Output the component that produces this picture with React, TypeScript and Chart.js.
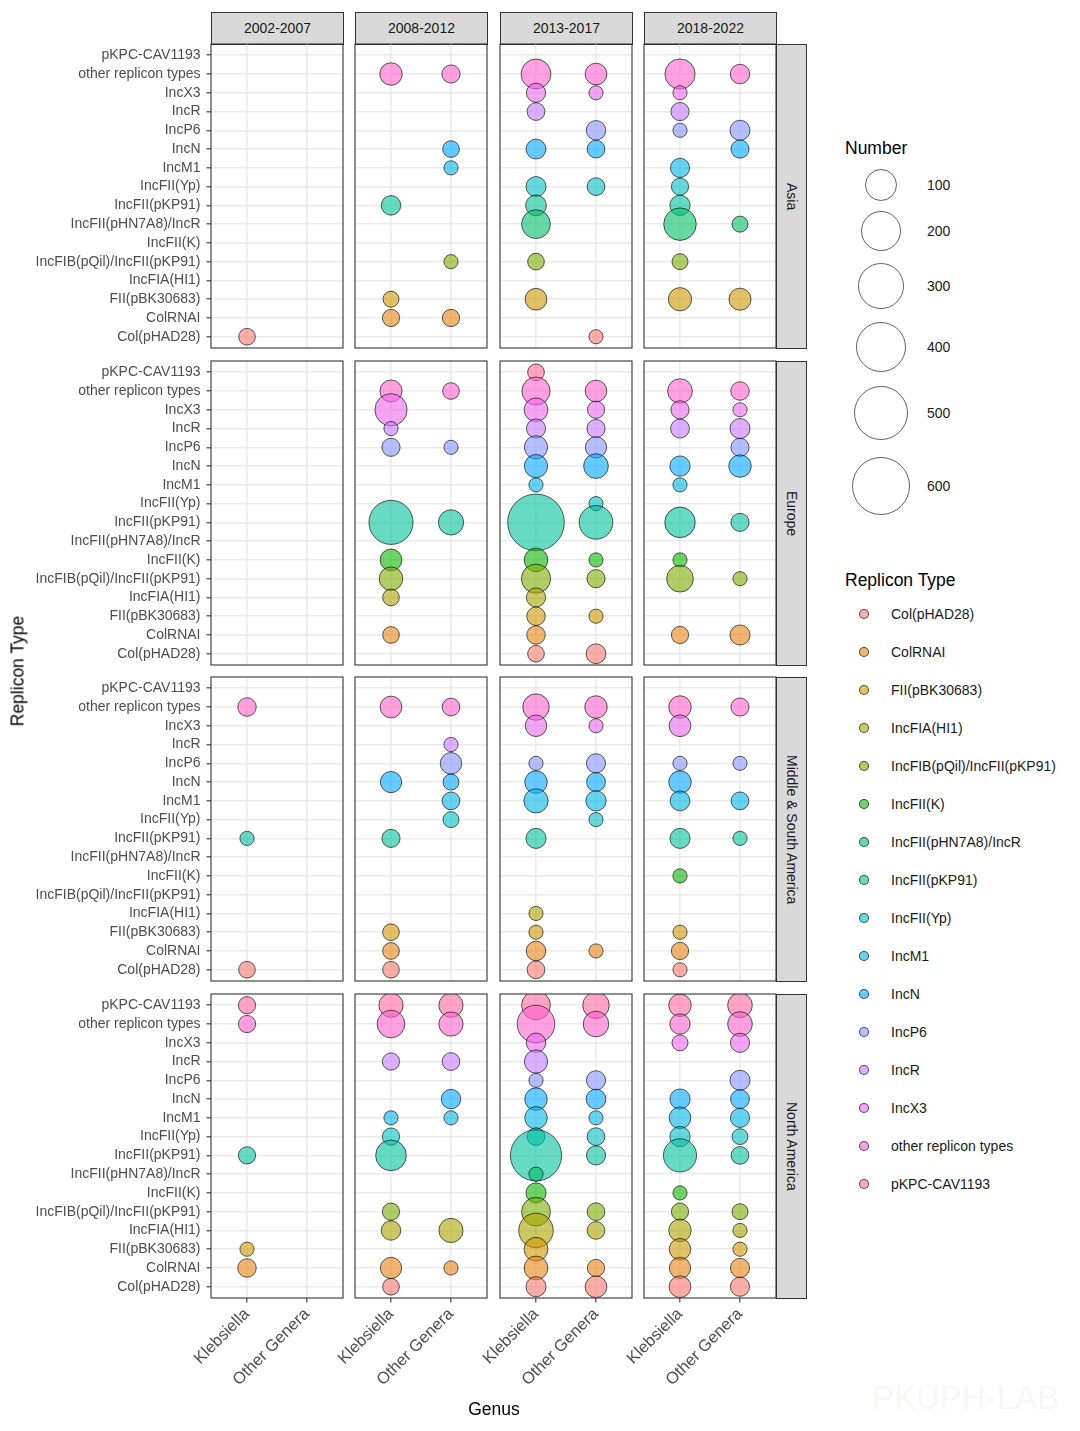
import React, { useEffect, useRef } from "react";
import { Chart, registerables } from "chart.js";

Chart.register(...registerables);

// ---------------- data ----------------
const PERIODS = ["2002-2007", "2008-2012", "2013-2017", "2018-2022"];
const REGIONS = ["Asia", "Europe", "Middle & South America", "North America"];
const GENERA = ["Klebsiella", "Other Genera"];
const REPLICON_TYPES = [
  "Col(pHAD28)",
  "ColRNAI",
  "FII(pBK30683)",
  "IncFIA(HI1)",
  "IncFIB(pQil)/IncFII(pKP91)",
  "IncFII(K)",
  "IncFII(pHN7A8)/IncR",
  "IncFII(pKP91)",
  "IncFII(Yp)",
  "IncM1",
  "IncN",
  "IncP6",
  "IncR",
  "IncX3",
  "other replicon types",
  "pKPC-CAV1193",
];
const SIZE_BREAKS = [100, 200, 300, 400, 500, 600];

const K = "Klebsiella";
const O = "Other Genera";

// [period, genus, replicon type, number]
type Row = [string, string, string, number];

const ASIA: Row[] = [
  ["2002-2007", K, "Col(pHAD28)", 3],

  ["2008-2012", K, "other replicon types", 23],
  ["2008-2012", O, "other replicon types", 6],
  ["2008-2012", O, "IncN", 3],
  ["2008-2012", O, "IncM1", 1],
  ["2008-2012", K, "IncFII(pKP91)", 10],
  ["2008-2012", O, "IncFIB(pQil)/IncFII(pKP91)", 1],
  ["2008-2012", K, "FII(pBK30683)", 2],
  ["2008-2012", K, "ColRNAI", 4],
  ["2008-2012", O, "ColRNAI", 4],

  ["2013-2017", K, "other replicon types", 79],
  ["2013-2017", K, "IncX3", 9],
  ["2013-2017", K, "IncR", 5],
  ["2013-2017", K, "IncN", 11],
  ["2013-2017", K, "IncFII(Yp)", 12],
  ["2013-2017", K, "IncFII(pKP91)", 15],
  ["2013-2017", K, "IncFII(pHN7A8)/IncR", 69],
  ["2013-2017", K, "IncFIB(pQil)/IncFII(pKP91)", 3],
  ["2013-2017", K, "FII(pBK30683)", 19],
  ["2013-2017", O, "other replicon types", 19],
  ["2013-2017", O, "IncX3", 1],
  ["2013-2017", O, "IncP6", 10],
  ["2013-2017", O, "IncN", 5],
  ["2013-2017", O, "IncFII(Yp)", 5],
  ["2013-2017", O, "Col(pHAD28)", 1],

  ["2018-2022", K, "other replicon types", 82],
  ["2018-2022", K, "IncX3", 1],
  ["2018-2022", K, "IncR", 6],
  ["2018-2022", K, "IncP6", 1],
  ["2018-2022", K, "IncM1", 9],
  ["2018-2022", K, "IncFII(Yp)", 4],
  ["2018-2022", K, "IncFII(pKP91)", 13],
  ["2018-2022", K, "IncFII(pHN7A8)/IncR", 108],
  ["2018-2022", K, "IncFIB(pQil)/IncFII(pKP91)", 2],
  ["2018-2022", K, "FII(pBK30683)", 27],
  ["2018-2022", O, "other replicon types", 10],
  ["2018-2022", O, "IncP6", 12],
  ["2018-2022", O, "IncN", 6],
  ["2018-2022", O, "IncFII(pHN7A8)/IncR", 2],
  ["2018-2022", O, "FII(pBK30683)", 21],
];

const EUROPE: Row[] = [
  ["2008-2012", K, "other replicon types", 21],
  ["2008-2012", K, "IncX3", 104],
  ["2008-2012", K, "IncR", 1],
  ["2008-2012", K, "IncP6", 6],
  ["2008-2012", K, "IncFII(pKP91)", 286],
  ["2008-2012", K, "IncFII(K)", 19],
  ["2008-2012", K, "IncFIB(pQil)/IncFII(pKP91)", 29],
  ["2008-2012", K, "IncFIA(HI1)", 3],
  ["2008-2012", K, "ColRNAI", 3],
  ["2008-2012", O, "other replicon types", 3],
  ["2008-2012", O, "IncP6", 1],
  ["2008-2012", O, "IncFII(pKP91)", 40],

  ["2013-2017", K, "pKPC-CAV1193", 3],
  ["2013-2017", K, "other replicon types", 63],
  ["2013-2017", K, "IncX3", 30],
  ["2013-2017", K, "IncR", 9],
  ["2013-2017", K, "IncP6", 27],
  ["2013-2017", K, "IncN", 27],
  ["2013-2017", K, "IncM1", 1],
  ["2013-2017", K, "IncFII(pKP91)", 575],
  ["2013-2017", K, "IncFII(K)", 29],
  ["2013-2017", K, "IncFIB(pQil)/IncFII(pKP91)", 73],
  ["2013-2017", K, "IncFIA(HI1)", 9],
  ["2013-2017", K, "FII(pBK30683)", 7],
  ["2013-2017", K, "ColRNAI", 7],
  ["2013-2017", K, "Col(pHAD28)", 3],
  ["2013-2017", O, "other replicon types", 19],
  ["2013-2017", O, "IncX3", 4],
  ["2013-2017", O, "IncR", 6],
  ["2013-2017", O, "IncP6", 17],
  ["2013-2017", O, "IncN", 36],
  ["2013-2017", O, "IncFII(Yp)", 1],
  ["2013-2017", O, "IncFII(pKP91)", 122],
  ["2013-2017", O, "IncFII(K)", 1],
  ["2013-2017", O, "IncFIB(pQil)/IncFII(pKP91)", 6],
  ["2013-2017", O, "FII(pBK30683)", 1],
  ["2013-2017", O, "Col(pHAD28)", 11],

  ["2018-2022", K, "other replicon types", 36],
  ["2018-2022", K, "IncX3", 6],
  ["2018-2022", K, "IncR", 8],
  ["2018-2022", K, "IncN", 13],
  ["2018-2022", K, "IncM1", 1],
  ["2018-2022", K, "IncFII(pKP91)", 86],
  ["2018-2022", K, "IncFII(K)", 1],
  ["2018-2022", K, "IncFIB(pQil)/IncFII(pKP91)", 51],
  ["2018-2022", K, "ColRNAI", 4],
  ["2018-2022", O, "other replicon types", 7],
  ["2018-2022", O, "IncX3", 1],
  ["2018-2022", O, "IncR", 12],
  ["2018-2022", O, "IncP6", 6],
  ["2018-2022", O, "IncN", 23],
  ["2018-2022", O, "IncFII(pKP91)", 6],
  ["2018-2022", O, "IncFIB(pQil)/IncFII(pKP91)", 1],
  ["2018-2022", O, "ColRNAI", 12],
];

const MIDDLE_SOUTH_AMERICA: Row[] = [
  ["2002-2007", K, "other replicon types", 7],
  ["2002-2007", K, "IncFII(pKP91)", 1],
  ["2002-2007", K, "Col(pHAD28)", 3],

  ["2008-2012", K, "other replicon types", 19],
  ["2008-2012", K, "IncN", 17],
  ["2008-2012", K, "IncFII(pKP91)", 6],
  ["2008-2012", K, "FII(pBK30683)", 3],
  ["2008-2012", K, "ColRNAI", 3],
  ["2008-2012", K, "Col(pHAD28)", 3],
  ["2008-2012", O, "other replicon types", 5],
  ["2008-2012", O, "IncR", 1],
  ["2008-2012", O, "IncP6", 18],
  ["2008-2012", O, "IncN", 2],
  ["2008-2012", O, "IncM1", 5],
  ["2008-2012", O, "IncFII(Yp)", 2],

  ["2013-2017", K, "other replicon types", 49],
  ["2013-2017", K, "IncX3", 18],
  ["2013-2017", K, "IncP6", 1],
  ["2013-2017", K, "IncN", 23],
  ["2013-2017", K, "IncM1", 33],
  ["2013-2017", K, "IncFII(pKP91)", 12],
  ["2013-2017", K, "IncFIA(HI1)", 1],
  ["2013-2017", K, "FII(pBK30683)", 1],
  ["2013-2017", K, "ColRNAI", 10],
  ["2013-2017", K, "Col(pHAD28)", 5],
  ["2013-2017", O, "other replicon types", 23],
  ["2013-2017", O, "IncX3", 1],
  ["2013-2017", O, "IncP6", 9],
  ["2013-2017", O, "IncN", 8],
  ["2013-2017", O, "IncM1", 13],
  ["2013-2017", O, "IncFII(Yp)", 1],
  ["2013-2017", O, "ColRNAI", 1],

  ["2018-2022", K, "other replicon types", 23],
  ["2018-2022", K, "IncX3", 19],
  ["2018-2022", K, "IncP6", 1],
  ["2018-2022", K, "IncN", 23],
  ["2018-2022", K, "IncM1", 11],
  ["2018-2022", K, "IncFII(pKP91)", 12],
  ["2018-2022", K, "IncFII(K)", 1],
  ["2018-2022", K, "FII(pBK30683)", 1],
  ["2018-2022", K, "ColRNAI", 4],
  ["2018-2022", K, "Col(pHAD28)", 1],
  ["2018-2022", O, "other replicon types", 6],
  ["2018-2022", O, "IncP6", 1],
  ["2018-2022", O, "IncM1", 5],
  ["2018-2022", O, "IncFII(pKP91)", 1],
];

const NORTH_AMERICA: Row[] = [
  ["2002-2007", K, "pKPC-CAV1193", 4],
  ["2002-2007", K, "other replicon types", 4],
  ["2002-2007", K, "IncFII(pKP91)", 4],
  ["2002-2007", K, "FII(pBK30683)", 1],
  ["2002-2007", K, "ColRNAI", 7],

  ["2008-2012", K, "pKPC-CAV1193", 33],
  ["2008-2012", K, "other replicon types", 59],
  ["2008-2012", K, "IncR", 4],
  ["2008-2012", K, "IncM1", 1],
  ["2008-2012", K, "IncFII(Yp)", 4],
  ["2008-2012", K, "IncFII(pKP91)", 88],
  ["2008-2012", K, "IncFIB(pQil)/IncFII(pKP91)", 4],
  ["2008-2012", K, "IncFIA(HI1)", 10],
  ["2008-2012", K, "ColRNAI", 17],
  ["2008-2012", K, "Col(pHAD28)", 3],
  ["2008-2012", O, "pKPC-CAV1193", 33],
  ["2008-2012", O, "other replicon types", 33],
  ["2008-2012", O, "IncR", 5],
  ["2008-2012", O, "IncN", 10],
  ["2008-2012", O, "IncM1", 1],
  ["2008-2012", O, "IncFIA(HI1)", 33],
  ["2008-2012", O, "ColRNAI", 1],

  ["2013-2017", K, "pKPC-CAV1193", 69],
  ["2013-2017", K, "other replicon types", 175],
  ["2013-2017", K, "IncX3", 10],
  ["2013-2017", K, "IncR", 27],
  ["2013-2017", K, "IncP6", 1],
  ["2013-2017", K, "IncN", 23],
  ["2013-2017", K, "IncM1", 23],
  ["2013-2017", K, "IncFII(Yp)", 5],
  ["2013-2017", K, "IncFII(pKP91)", 436],
  ["2013-2017", K, "IncFII(pHN7A8)/IncR", 1],
  ["2013-2017", K, "IncFII(K)", 12],
  ["2013-2017", K, "IncFIB(pQil)/IncFII(pKP91)", 69],
  ["2013-2017", K, "IncFIA(HI1)", 132],
  ["2013-2017", K, "FII(pBK30683)", 30],
  ["2013-2017", K, "ColRNAI", 30],
  ["2013-2017", K, "Col(pHAD28)", 12],
  ["2013-2017", O, "pKPC-CAV1193", 49],
  ["2013-2017", O, "other replicon types", 42],
  ["2013-2017", O, "IncP6", 9],
  ["2013-2017", O, "IncN", 11],
  ["2013-2017", O, "IncM1", 1],
  ["2013-2017", O, "IncFII(Yp)", 5],
  ["2013-2017", O, "IncFII(pKP91)", 9],
  ["2013-2017", O, "IncFIB(pQil)/IncFII(pKP91)", 5],
  ["2013-2017", O, "IncFIA(HI1)", 5],
  ["2013-2017", O, "ColRNAI", 4],
  ["2013-2017", O, "Col(pHAD28)", 19],

  ["2018-2022", K, "pKPC-CAV1193", 23],
  ["2018-2022", K, "other replicon types", 13],
  ["2018-2022", K, "IncX3", 2],
  ["2018-2022", K, "IncN", 13],
  ["2018-2022", K, "IncM1", 19],
  ["2018-2022", K, "IncFII(Yp)", 13],
  ["2018-2022", K, "IncFII(pKP91)", 116],
  ["2018-2022", K, "IncFII(K)", 1],
  ["2018-2022", K, "IncFIB(pQil)/IncFII(pKP91)", 4],
  ["2018-2022", K, "IncFIA(HI1)", 23],
  ["2018-2022", K, "FII(pBK30683)", 18],
  ["2018-2022", K, "ColRNAI", 17],
  ["2018-2022", K, "Col(pHAD28)", 19],
  ["2018-2022", O, "pKPC-CAV1193", 36],
  ["2018-2022", O, "other replicon types", 36],
  ["2018-2022", O, "IncX3", 9],
  ["2018-2022", O, "IncP6", 12],
  ["2018-2022", O, "IncN", 8],
  ["2018-2022", O, "IncM1", 9],
  ["2018-2022", O, "IncFII(Yp)", 2],
  ["2018-2022", O, "IncFII(pKP91)", 5],
  ["2018-2022", O, "IncFIB(pQil)/IncFII(pKP91)", 2],
  ["2018-2022", O, "IncFIA(HI1)", 1],
  ["2018-2022", O, "FII(pBK30683)", 1],
  ["2018-2022", O, "ColRNAI", 9],
  ["2018-2022", O, "Col(pHAD28)", 9],
];

const REGION_DATA: Row[][] = [ASIA, EUROPE, MIDDLE_SOUTH_AMERICA, NORTH_AMERICA];

// ---------------- scales / styling ----------------
const FONT = "'Liberation Sans', Arial, Helvetica, sans-serif";
const SMALL = 14;
const TITLE = 17.5;
const N_MIN = 1;
const N_MAX = 600;
const R_MIN = 7.1;
const R_SPAN = 21.7;
function sizeScale(n: number): number {
  return R_MIN + R_SPAN * Math.sqrt(Math.max(n - N_MIN, 0) / (N_MAX - N_MIN));
}

// ggplot2-like hue palette (polar Luv -> sRGB)
function hcl(h: number, c: number, l: number): [number, number, number] {
  const Xn = 95.047, Yn = 100.0, Zn = 108.883;
  const hr = (h * Math.PI) / 180;
  const U = c * Math.cos(hr);
  const V = c * Math.sin(hr);
  const Y = l > 7.999592 ? Yn * Math.pow((l + 16) / 116, 3) : (Yn * l) / 903.3;
  const den = Xn + 15 * Yn + 3 * Zn;
  const un = (4 * Xn) / den;
  const vn = (9 * Yn) / den;
  const u = U / (13 * l) + un;
  const v = V / (13 * l) + vn;
  const X = (9 * Y * u) / (4 * v);
  const Z = -X / 3 - 5 * Y + (3 * Y) / v;
  const x = X / 100, y = Y / 100, z = Z / 100;
  const lin = [
    3.240479 * x - 1.53715 * y - 0.498535 * z,
    -0.969256 * x + 1.875992 * y + 0.041556 * z,
    0.055648 * x - 0.204043 * y + 1.057311 * z,
  ];
  const g = (t: number) => (t > 0.0031308 ? 1.055 * Math.pow(t, 1 / 2.4) - 0.055 : 12.92 * t);
  return lin.map((t) => Math.round(255 * Math.min(1, Math.max(0, g(t))))) as [number, number, number];
}
const TYPE_RGB = REPLICON_TYPES.map((_, i) => hcl(15 + (360 / REPLICON_TYPES.length) * i, 100, 65));
const fillOf = (i: number) => `rgba(${TYPE_RGB[i][0]},${TYPE_RGB[i][1]},${TYPE_RGB[i][2]},0.6)`;
const BORDER = "rgba(0,0,0,0.62)";

// layout (px)
const PANEL_LEFT = [211, 355, 500, 644];
const PANEL_TOP = [44, 361, 677, 994];
const PW = 132;
const PH = 304;

const panelBorder = {
  id: "panelBorder",
  afterDatasetsDraw(chart: any) {
    const { ctx, chartArea: a } = chart;
    ctx.save();
    ctx.strokeStyle = "#333333";
    ctx.lineWidth = 1.1;
    ctx.strokeRect(a.left, a.top, a.right - a.left, a.bottom - a.top);
    ctx.restore();
  },
};

function Panel({ col, row }: { col: number; row: number }) {
  const ref = useRef<HTMLCanvasElement | null>(null);
  const L = col === 0 ? PANEL_LEFT[0] : 60;
  const T = 20;
  const R = 6;
  const B = row === 3 ? 120 : 20;
  const cw = L + PW + R;
  const ch = T + PH + B;
  const left = PANEL_LEFT[col] - L;
  const top = PANEL_TOP[row] - T;

  useEffect(() => {
    if (!ref.current) return;
    const rows = REGION_DATA[row].filter((d) => d[0] === PERIODS[col]);
    const datasets = REPLICON_TYPES.map((t, i) => ({
      label: t,
      data: rows
        .filter((d) => d[2] === t)
        .map((d) => ({ x: GENERA.indexOf(d[1]) + 1, y: i + 1, r: sizeScale(d[3]) })),
      backgroundColor: fillOf(i),
      borderColor: BORDER,
      borderWidth: 1,
      clip: 0,
    }));
    const chart = new Chart(ref.current, {
      type: "bubble",
      data: { datasets },
      options: {
        responsive: false,
        animation: false,
        events: [],
        layout: {
          autoPadding: false,
          padding: {
            left: col === 0 ? 0 : L,
            top: T,
            right: R,
            bottom: row === 3 ? 0 : B,
          },
        },
        plugins: { legend: { display: false }, tooltip: { enabled: false } },
        scales: {
          x: {
            type: "linear",
            min: 0.4,
            max: 2.6,
            afterBuildTicks: (s: any) => {
              s.ticks = GENERA.map((_, i) => ({ value: i + 1 }));
            },
            afterFit: (s: any) => {
              s.height = row === 3 ? B : 0;
            },
            border: { display: false },
            grid: {
              color: "#EBEBEB",
              lineWidth: 1.6,
              drawTicks: row === 3,
              tickLength: 4.5,
              tickColor: "#333333",
              tickWidth: 1.1,
            },
            ticks: {
              display: row === 3,
              autoSkip: false,
              minRotation: 45,
              maxRotation: 45,
              padding: 2,
              color: "#4D4D4D",
              font: { family: FONT, size: 16.5 },
              callback: (v: any) => GENERA[Math.round(v) - 1] ?? "",
            },
          },
          y: {
            type: "linear",
            min: 0.4,
            max: 16.6,
            afterBuildTicks: (s: any) => {
              s.ticks = REPLICON_TYPES.map((_, i) => ({ value: i + 1 }));
            },
            afterFit: (s: any) => {
              s.width = col === 0 ? L : 0;
            },
            border: { display: false },
            grid: {
              color: "#EBEBEB",
              lineWidth: 1.6,
              drawTicks: col === 0,
              tickLength: 4.5,
              tickColor: "#333333",
              tickWidth: 1.1,
            },
            ticks: {
              display: col === 0,
              autoSkip: false,
              padding: 6,
              color: "#4D4D4D",
              font: { family: FONT, size: SMALL },
              callback: (v: any) => REPLICON_TYPES[Math.round(v) - 1] ?? "",
            },
          },
        },
      } as any,
      plugins: [panelBorder],
    });
    return () => chart.destroy();
  }, [col, row]);

  return (
    <canvas
      ref={ref}
      width={cw}
      height={ch}
      style={{ position: "absolute", left, top, width: cw, height: ch }}
    />
  );
}

const textBase: React.CSSProperties = {
  position: "absolute",
  fontFamily: FONT,
  whiteSpace: "nowrap",
};

export default function App() {
  const stripStyle: React.CSSProperties = {
    position: "absolute",
    background: "#D9D9D9",
    border: "1px solid #333333",
    boxSizing: "border-box",
    display: "flex",
    alignItems: "center",
    justifyContent: "center",
    fontFamily: FONT,
    fontSize: SMALL,
    color: "#1A1A1A",
  };
  const sizeCenters = [185, 231, 286, 347, 413, 486];
  return (
    <div
      style={{
        position: "absolute",
        left: 0,
        top: 0,
        width: 1080,
        height: 1431,
        background: "#FFFFFF",
        overflow: "hidden",
      }}
    >
      {/* top strips */}
      {PERIODS.map((p, c) => (
        <div key={p} style={{ ...stripStyle, left: PANEL_LEFT[c], top: 12, width: PW + 1, height: 32.5 }}>
          {p}
        </div>
      ))}
      {/* right strips */}
      {REGIONS.map((r, i) => (
        <div
          key={r}
          style={{ ...stripStyle, left: PANEL_LEFT[3] + PW, top: PANEL_TOP[i], width: 31, height: PH + 1 }}
        >
          <span style={{ writingMode: "vertical-rl" }}>{r}</span>
        </div>
      ))}

      {/* panels */}
      {REGIONS.map((_, r) =>
        PERIODS.map((__, c) => <Panel key={`${r}-${c}`} col={c} row={r} />)
      )}

      {/* axis titles */}
      <div
        style={{
          ...textBase,
          left: 18,
          top: 671,
          fontSize: TITLE,
          color: "#000",
          transform: "translate(-50%, -50%) rotate(-90deg)",
        }}
      >
        Replicon Type
      </div>
      <div
        style={{
          ...textBase,
          left: 494,
          top: 1409,
          fontSize: TITLE,
          color: "#000",
          transform: "translate(-50%, -50%)",
        }}
      >
        Genus
      </div>

      {/* size legend */}
      <div style={{ ...textBase, left: 845, top: 138, lineHeight: "20px", fontSize: TITLE, color: "#000" }}>
        Number
      </div>
      {SIZE_BREAKS.map((b, i) => {
        const r = sizeScale(b) + 0.5;
        return (
          <React.Fragment key={b}>
            <div
              style={{
                position: "absolute",
                left: 881 - r,
                top: sizeCenters[i] - r,
                width: 2 * r,
                height: 2 * r,
                borderRadius: "50%",
                border: "1.2px solid rgba(0,0,0,0.62)",
                boxSizing: "border-box",
              }}
            />
            <div
              style={{
                ...textBase,
                left: 927,
                top: sizeCenters[i] - 10,
                lineHeight: "20px",
                fontSize: SMALL,
                color: "#1A1A1A",
              }}
            >
              {b}
            </div>
          </React.Fragment>
        );
      })}

      {/* colour legend */}
      <div style={{ ...textBase, left: 845, top: 570, lineHeight: "20px", fontSize: TITLE, color: "#000" }}>
        Replicon Type
      </div>
      {REPLICON_TYPES.map((t, i) => {
        const cy = 614 + 38 * i;
        return (
          <React.Fragment key={t}>
            <div
              style={{
                position: "absolute",
                left: 863.5 - 5,
                top: cy - 5,
                width: 10,
                height: 10,
                borderRadius: "50%",
                background: fillOf(i),
                border: `1px solid ${BORDER}`,
                boxSizing: "border-box",
              }}
            />
            <div
              style={{
                ...textBase,
                left: 891,
                top: cy - 10,
                lineHeight: "20px",
                fontSize: SMALL,
                color: "#1A1A1A",
              }}
            >
              {t}
            </div>
          </React.Fragment>
        );
      })}

      {/* faint watermark */}
      <div
        style={{
          ...textBase,
          left: 872,
          top: 1380,
          fontSize: 33,
          lineHeight: "36px",
          color: "rgba(0,0,0,0.055)",
        }}
      >
        PKUPH-LAB
      </div>
    </div>
  );
}
